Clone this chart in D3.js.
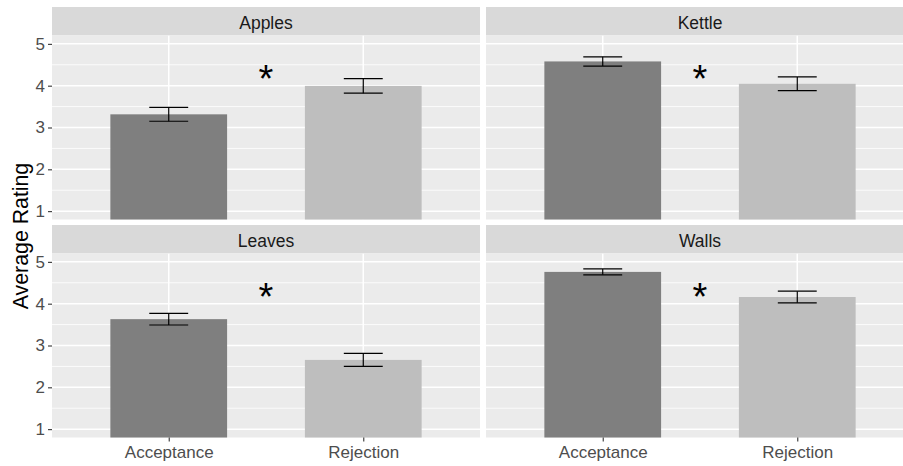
<!DOCTYPE html>
<html>
<head>
<meta charset="utf-8">
<script src="https://cdn.jsdelivr.net/npm/d3@7"></script>
<style>
  html, body { margin: 0; padding: 0; background: #fff; }
  svg { display: block; }
  text { font-family: "Liberation Sans", Arial, sans-serif; }
</style>
</head>
<body>
<svg id="chart" width="903" height="466"></svg>
<script>
// ---- Data ----
const items = ["Apples", "Kettle", "Leaves", "Walls"];
const conditions = ["Acceptance", "Rejection"];
const meanApples = [3.315, 3.995];
const meanKettle = [4.58, 4.045];
const meanLeaves = [3.63, 2.655];
const meanWalls  = [4.76, 4.16];
const seApples = [0.165, 0.175];
const seKettle = [0.11, 0.165];
const seLeaves = [0.14, 0.155];
const seWalls  = [0.07, 0.14];
const yTicks = [1, 2, 3, 4, 5];
const yMinor = [1.5, 2.5, 3.5, 4.5];
const starLabel = "*";
const starY = 4.34;
const yTitle = "Average Rating";

const means = { Apples: meanApples, Kettle: meanKettle, Leaves: meanLeaves, Walls: meanWalls };
const ses = { Apples: seApples, Kettle: seKettle, Leaves: seLeaves, Walls: seWalls };
const fills = { Acceptance: "#7F7F7F", Rejection: "#BEBEBE" };

// ---- Layout ----
const svg = d3.select("#chart");
const panelW = 428, panelH = 184, stripH = 28.5;
const colX = [52, 486];
const rowY = [7, 225];

const y = d3.scaleLinear().domain([0.8, 5.2]);

items.forEach((item, i) => {
  const col = i % 2, row = Math.floor(i / 2);
  const px = colX[col], sy = rowY[row], py = sy + stripH;

  const x = d3.scalePoint().domain(conditions).range([0, panelW]).padding(0.6);
  const step = x.step();
  y.range([panelH, 0]);

  // strip
  svg.append("rect").attr("x", px).attr("y", sy).attr("width", panelW).attr("height", stripH)
    .attr("fill", "#D9D9D9");
  svg.append("text").attr("x", px + panelW / 2).attr("y", sy + 22)
    .attr("text-anchor", "middle").attr("font-size", "17.5px").attr("fill", "#1A1A1A")
    .text(item);

  const g = svg.append("g").attr("transform", `translate(${px},${py})`);
  const clipId = "clip" + i;
  g.append("clipPath").attr("id", clipId).append("rect")
    .attr("width", panelW).attr("height", panelH);
  g.append("rect").attr("width", panelW).attr("height", panelH).attr("fill", "#EBEBEB");

  const inner = g.append("g").attr("clip-path", `url(#${clipId})`);
  // minor grid
  inner.selectAll(".minor").data(yMinor).join("line")
    .attr("x1", 0).attr("x2", panelW)
    .attr("y1", d => y(d)).attr("y2", d => y(d))
    .attr("stroke", "#fff").attr("stroke-width", 0.8);
  // major grid
  inner.selectAll(".major").data(yTicks).join("line")
    .attr("x1", 0).attr("x2", panelW)
    .attr("y1", d => y(d)).attr("y2", d => y(d))
    .attr("stroke", "#fff").attr("stroke-width", 1.5);
  inner.selectAll(".vmajor").data(conditions).join("line")
    .attr("x1", d => x(d)).attr("x2", d => x(d))
    .attr("y1", 0).attr("y2", panelH)
    .attr("stroke", "#fff").attr("stroke-width", 1.5);

  const data = conditions.map((c, k) => ({ c, m: means[item][k], se: ses[item][k] }));
  // bars
  inner.selectAll(".bar").data(data).join("rect")
    .attr("x", d => x(d.c) - step * 0.3).attr("width", step * 0.6)
    .attr("y", d => y(d.m)).attr("height", d => y(0) - y(d.m))
    .attr("fill", d => fills[d.c]);
  // error bars
  const eb = inner.selectAll(".eb").data(data).join("g");
  eb.append("line").attr("x1", d => x(d.c)).attr("x2", d => x(d.c))
    .attr("y1", d => y(d.m + d.se)).attr("y2", d => y(d.m - d.se));
  eb.append("line").attr("x1", d => x(d.c) - step * 0.1).attr("x2", d => x(d.c) + step * 0.1)
    .attr("y1", d => y(d.m + d.se)).attr("y2", d => y(d.m + d.se));
  eb.append("line").attr("x1", d => x(d.c) - step * 0.1).attr("x2", d => x(d.c) + step * 0.1)
    .attr("y1", d => y(d.m - d.se)).attr("y2", d => y(d.m - d.se));
  eb.selectAll("line").attr("stroke", "#000").attr("stroke-width", 1.2);

  // star
  const xs = d3.scaleLinear().domain([1, 2]).range([x(conditions[0]), x(conditions[1])]);
  inner.append("text").attr("x", xs(1.5)).attr("y", y(starY) + 21)
    .attr("text-anchor", "middle").attr("font-size", "38px").attr("fill", "#000")
    .text(starLabel);

  // axes
  if (col === 0) {
    const ay = g.append("g").call(d3.axisLeft(y).tickValues(yTicks).tickFormat(d3.format("d"))
      .tickSize(4).tickPadding(3));
    ay.select(".domain").remove();
    ay.selectAll(".tick line").attr("stroke", "#333333").attr("stroke-width", 1.1);
    ay.selectAll(".tick text").attr("fill", "#4D4D4D").attr("font-size", "17px")
      .attr("font-family", "Liberation Sans, Arial, sans-serif");
  }
  if (row === 1) {
    const ax = g.append("g").attr("transform", `translate(0,${panelH})`)
      .call(d3.axisBottom(x).tickSize(4).tickPadding(4.5));
    ax.select(".domain").remove();
    ax.selectAll(".tick line").attr("stroke", "#333333").attr("stroke-width", 1.1);
    ax.selectAll(".tick text").attr("fill", "#4D4D4D").attr("font-size", "17px")
      .attr("font-family", "Liberation Sans, Arial, sans-serif");
  }
});

// y title
svg.append("text")
  .attr("transform", "translate(27.5,236) rotate(-90)")
  .attr("text-anchor", "middle").attr("font-size", "21.3px").attr("fill", "#000")
  .text(yTitle);
</script>
</body>
</html>
